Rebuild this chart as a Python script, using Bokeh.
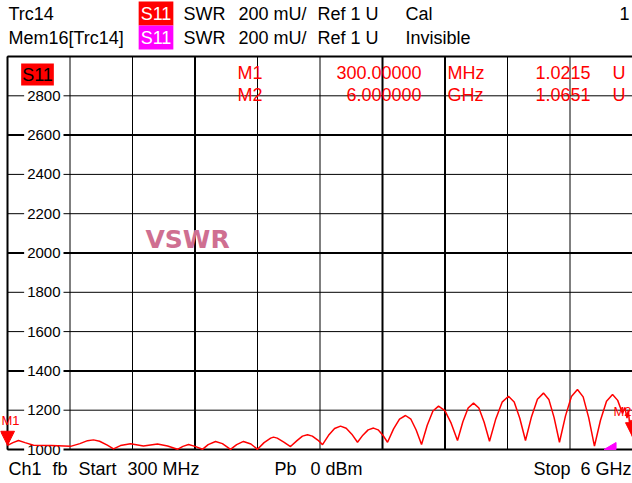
from bokeh.plotting import figure
from bokeh.models import Range1d
from bokeh.core.properties import value
from bokeh.embed import file_html
from bokeh.resources import INLINE

# ---------------- data ----------------
freq_ghz = [0.300, 0.350, 0.400, 0.460, 0.537, 0.700, 0.875, 0.960, 1.030, 1.084,
            1.140, 1.210, 1.267, 1.330, 1.422, 1.540, 1.668, 1.760, 1.850, 1.900,
            1.951, 2.010, 2.078, 2.130, 2.197, 2.260, 2.334, 2.390, 2.452, 2.520,
            2.580, 2.640, 2.700, 2.726, 2.760, 2.820, 2.881, 2.940, 2.990, 3.036,
            3.080, 3.130, 3.173,
            3.228, 3.283, 3.337, 3.389, 3.440, 3.492, 3.541, 3.589, 3.638, 3.680,
            3.723, 3.766, 3.821, 3.875, 3.930, 3.979, 4.027, 4.076, 4.128, 4.180,
            4.231, 4.289, 4.346, 4.404, 4.453, 4.501, 4.550, 4.599, 4.647, 4.696,
            4.754, 4.811, 4.869, 4.921, 4.972, 5.024, 5.079, 5.133, 5.188, 5.237,
            5.285, 5.334, 5.389, 5.443, 5.498, 5.550, 5.601, 5.653, 5.708, 5.763,
            5.818, 5.865, 5.909, 5.930, 5.950, 5.962, 5.975, 5.987, 6.000]
swr_mu = [1021, 1035, 1046, 1035, 1022, 1020, 1016, 1030, 1045, 1049,
          1042, 1022, 1003, 1020, 1029, 1018, 1028, 1018, 1001, 1016,
          1025, 1016, 1001, 1025, 1041, 1030, 1001, 1025, 1041, 1028,
          1001, 1035, 1058, 1063, 1058, 1038, 1015, 1045, 1068, 1075,
          1068, 1048, 1025,
          1072, 1107, 1119, 1108, 1078, 1037, 1073, 1100, 1109, 1100,
          1073, 1037, 1105, 1155, 1173, 1154, 1099, 1025, 1123, 1196,
          1221, 1198, 1134, 1046, 1141, 1211, 1236, 1211, 1139, 1042,
          1157, 1241, 1271, 1242, 1159, 1046, 1167, 1256, 1287, 1255,
          1162, 1037, 1171, 1270, 1305, 1268, 1161, 1017, 1149, 1246,
          1280, 1250, 1183, 1214, 1160, 1200, 1120, 1150, 1065]

y_ticks = [1000, 1200, 1400, 1600, 1800, 2000, 2200, 2400, 2600, 2800]
y_tick_labels = ["1000", "1200", "1400", "1600", "1800", "2000", "2200", "2400", "2600", "2800"]
grid_freqs = [0.30, 0.87, 1.44, 2.01, 2.58, 3.15, 3.72, 4.29, 4.86, 5.43, 6.00]
grid_levels = [1000, 1200, 1400, 1600, 1800, 2000, 2200, 2400, 2600, 2800, 3000]
thick_freqs = [2.01, 3.72, 4.29]
thick_levels = [1000, 1400, 2000, 2600, 3000]

marker_names = ["M1", "M2"]
marker_freq = [0.3, 6.0]
marker_swr = [1021.5, 1065.1]
marker_freq_text = ["300.00000", "6.000000"]
marker_unit_text = ["MHz", "GHz"]
marker_val_text = ["1.0215", "1.0651"]
mem_marker_freq = [5.85]
mem_marker_swr = [1000]

# ---------------- geometry (canvas pixels = reference pixels) ----------------
W, H = 632, 483
F0, F1 = 0.3, 6.0
SX = (F1 - F0) / 625.0          # GHz per pixel
SY = 2000.0 / 393.0             # mU per pixel
X_START = F0 - 7 * SX
Y_TOP = 3000 + 56 * SY
Y_BOT = Y_TOP - H * SY


def fx(px):
    return X_START + px * SX


def vy(py):
    return Y_TOP - py * SY


p = figure(width=W, height=H, output_backend="svg", toolbar_location=None,
           x_range=Range1d(X_START, F1), y_range=Range1d(Y_BOT, Y_TOP),
           x_axis_location=None, y_axis_location=None, min_border=0,
           background_fill_color="white", border_fill_color="white")
p.grid.visible = False
p.outline_line_color = None

FONT = value("Liberation Sans")

# grid
n = len(grid_freqs)
p.segment(x0=grid_freqs, y0=[1000] * n, x1=grid_freqs, y1=[3000] * n,
          line_color="black", line_width=1)
p.segment(x0=thick_freqs, y0=[1000] * len(thick_freqs), x1=thick_freqs, y1=[3000] * len(thick_freqs),
          line_color="black", line_width=2)
m = len(grid_levels)
p.segment(x0=[F0] * m, y0=grid_levels, x1=[F1] * m, y1=grid_levels,
          line_color="black", line_width=1)
p.segment(x0=[F0] * len(thick_levels), y0=thick_levels, x1=[F1] * len(thick_levels), y1=thick_levels,
          line_color="black", line_width=2)
p.segment(x0=[F0], y0=[1000], x1=[F0], y1=[3000], line_color="black", line_width=2)

# tick labels inside the frame, over the grid with white background
p.text(x=[fx(63)] * len(y_ticks), y=y_ticks, text=y_tick_labels, text_align="right",
       text_baseline="middle", text_font=FONT, text_font_size="15px", text_color="black",
       background_fill_color="white", padding=3)

# watermark
p.text(x=[fx(145)], y=[vy(239)], text=["VSWR"], text_align="left", text_baseline="middle",
       text_font=value("DejaVu Sans"), text_font_style="bold", text_font_size="25px",
       text_color="#CF6F91")

# trace
p.line(freq_ghz, swr_mu, line_color="#FF0000", line_width=1.5)

# marker triangles (tip at the marker point)
tri_xs = [[f - 7 * SX, f + 7 * SX, f] for f in marker_freq]
tri_ys = [[v + 14 * SY, v + 14 * SY, v] for v in marker_swr]
p.patches(tri_xs, tri_ys, fill_color="#FF0000", line_color="#FF0000")
p.text(x=[fx(1), fx(631)], y=[v + 25 * SY for v in marker_swr], text=marker_names,
       text_align=["left", "right"], text_baseline="middle", text_font=FONT,
       text_font_size="13px", text_color="#FF0000")
mem_xs = [[f - 12 * SX, f, f] for f in mem_marker_freq]
mem_ys = [[v, v + 7 * SY, v] for v in mem_marker_swr]
p.patches(mem_xs, mem_ys, fill_color="#FF00FF", line_color="#FF00FF")

# marker readout
rows_y = [vy(72), vy(94)]
p.text(x=[fx(237)] * 2, y=rows_y, text=marker_names, text_align="left", text_baseline="middle",
       text_font=FONT, text_font_size="18px", text_color="#FF0000")
p.text(x=[fx(421)] * 2, y=rows_y, text=marker_freq_text, text_align="right", text_baseline="middle",
       text_font=FONT, text_font_size="18px", text_color="#FF0000")
p.text(x=[fx(447)] * 2, y=rows_y, text=marker_unit_text, text_align="left", text_baseline="middle",
       text_font=FONT, text_font_size="18px", text_color="#FF0000")
p.text(x=[fx(590)] * 2, y=rows_y, text=marker_val_text, text_align="right", text_baseline="middle",
       text_font=FONT, text_font_size="18px", text_color="#FF0000")
p.text(x=[fx(612)] * 2, y=rows_y, text=["U", "U"], text_align="left", text_baseline="middle",
       text_font=FONT, text_font_size="18px", text_color="#FF0000")

# trace label box inside the diagram
p.text(x=[fx(37)], y=[vy(74)], text=["S11"], text_align="center", text_baseline="middle",
       text_font=FONT, text_font_size="18px", text_color="black",
       background_fill_color="#FF0000", padding=1)


def put(px, py, s, align="left", color="black", size="18px", bg=None, pad=0):
    kw = {}
    if bg is not None:
        kw = dict(background_fill_color=bg, padding=pad)
    p.text(x=[fx(px)], y=[vy(py)], text=[s], text_align=align, text_baseline="middle",
           text_font=FONT, text_font_size=size, text_color=color, **kw)


# header rows
for ry, name, box, state in [(13, "Trc14", "#FF0000", "Cal"),
                             (37, "Mem16[Trc14]", "#FF00FF", "Invisible")]:
    put(8, ry, name)
    put(155.5, ry, "S11", align="center", color="white", bg=box, pad=2)
    put(183, ry, "SWR")
    put(238, ry, "200 mU/")
    put(317, ry, "Ref 1 U")
    put(405, ry, state)
put(629, 13, "1", align="right")

# footer
put(8, 468, "Ch1")
put(52, 468, "fb")
put(78, 468, "Start")
put(127, 468, "300 MHz")
put(274, 468, "Pb")
put(310, 468, "0 dBm")
put(533, 468, "Stop")
put(631, 468, "6 GHz", align="right")

open("out.html", "w").write(file_html(p, INLINE))
